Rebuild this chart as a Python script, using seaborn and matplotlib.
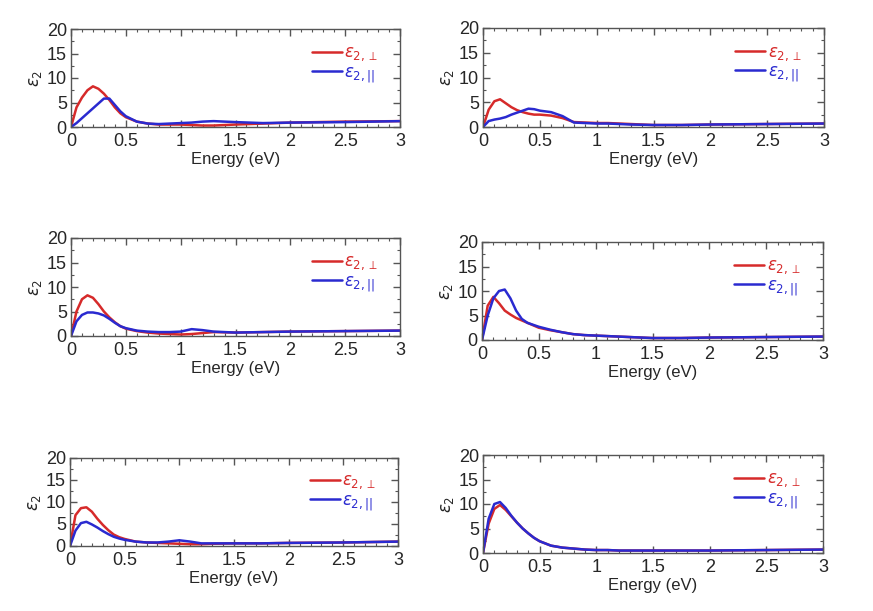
import matplotlib
matplotlib.use("Agg")
import matplotlib.pyplot as plt
from matplotlib.ticker import MultipleLocator, FuncFormatter
import numpy as np
import pandas as pd
import seaborn as sns

# photon energy grid (eV)
energy = [0, 0.05, 0.1, 0.15, 0.2, 0.25, 0.3, 0.35, 0.4, 0.45, 0.5, 0.6,
          0.7, 0.8, 0.9, 1.0, 1.1, 1.2, 1.3, 1.5, 1.75, 2.0, 2.5, 3.0]

# eps_2 perpendicular / parallel for the six panels (row by row)
perp_1 = [0, 4, 6, 7.5, 8.3, 7.8, 6.8, 5.5, 4, 2.8, 2, 1.1, 0.7, 0.5, 0.5, 0.5, 0.4, 0.3, 0.3, 0.5, 0.7, 0.9, 1.1, 1.2]
par_1 = [0, 0.8, 1.8, 2.8, 3.8, 4.8, 5.8, 5.8, 4.5, 3.2, 2.2, 1.1, 0.7, 0.6, 0.7, 0.8, 0.9, 1.1, 1.2, 1.0, 0.8, 0.9, 1.0, 1.2]

perp_2 = [0, 3.5, 5.2, 5.6, 4.8, 4.0, 3.4, 3.0, 2.7, 2.5, 2.5, 2.3, 1.8, 1.0, 0.9, 0.8, 0.8, 0.7, 0.6, 0.4, 0.4, 0.5, 0.6, 0.7]
par_2 = [0, 1.2, 1.5, 1.7, 2.0, 2.5, 2.9, 3.3, 3.7, 3.6, 3.3, 3.0, 2.2, 0.9, 0.8, 0.7, 0.7, 0.6, 0.5, 0.4, 0.4, 0.5, 0.6, 0.7]

perp_3 = [0, 5, 7.5, 8.3, 7.8, 6.5, 5, 3.8, 2.8, 2, 1.5, 1.0, 0.7, 0.5, 0.4, 0.3, 0.4, 0.6, 0.8, 0.7, 0.8, 0.9, 1.0, 1.1]
par_3 = [0, 3, 4.3, 4.8, 4.8, 4.6, 4.2, 3.5, 2.7, 2, 1.6, 1.1, 0.9, 0.8, 0.8, 0.9, 1.4, 1.2, 0.9, 0.7, 0.8, 0.9, 1.0, 1.1]

perp_4 = [0, 7, 8.8, 7.5, 6, 5.2, 4.5, 4.0, 3.5, 3.0, 2.5, 2.0, 1.6, 1.2, 1.0, 0.9, 0.8, 0.7, 0.6, 0.4, 0.4, 0.5, 0.6, 0.7]
par_4 = [0, 5, 8.5, 10.0, 10.3, 8.5, 6, 4.3, 3.5, 3.1, 2.7, 2.1, 1.6, 1.2, 1.0, 0.9, 0.8, 0.7, 0.6, 0.4, 0.4, 0.5, 0.6, 0.7]

perp_5 = [0, 7, 8.6, 8.8, 7.8, 6.2, 4.8, 3.6, 2.6, 2.0, 1.6, 1.0, 0.8, 0.7, 0.6, 0.5, 0.4, 0.4, 0.5, 0.6, 0.6, 0.7, 0.8, 1.0]
par_5 = [0, 3.5, 5.2, 5.5, 4.9, 4.2, 3.4, 2.7, 2.1, 1.7, 1.4, 1.0, 0.8, 0.8, 1.0, 1.3, 1.0, 0.6, 0.6, 0.6, 0.6, 0.7, 0.8, 1.0]

perp_6 = [0, 6, 9.0, 9.8, 8.8, 7.5, 6.2, 5.0, 4.0, 3.1, 2.4, 1.5, 1.1, 0.9, 0.7, 0.6, 0.6, 0.5, 0.5, 0.5, 0.5, 0.5, 0.6, 0.7]
par_6 = [0, 7, 10.0, 10.4, 9.2, 7.6, 6.2, 5.0, 4.0, 3.1, 2.4, 1.5, 1.1, 0.9, 0.7, 0.6, 0.6, 0.5, 0.5, 0.5, 0.5, 0.5, 0.6, 0.7]

panels = [(perp_1, par_1), (perp_2, par_2), (perp_3, par_3),
          (perp_4, par_4), (perp_5, par_5), (perp_6, par_6)]

RED = "#d62a2a"
BLUE = "#2a2ad0"

sns.set_theme(style="ticks")
plt.rcParams["font.family"] = ["Liberation Sans", "DejaVu Sans"]

fig = plt.figure(figsize=(8.73, 6.11), dpi=100)
W, H = 873, 611
# axes boxes in pixels: left, top, right, bottom
boxes = [(71, 29, 400, 127), (483, 28, 824, 127),
         (71, 238, 400, 336), (482, 242, 823, 340),
         (70, 458, 398, 546), (483, 455, 823, 553)]

fmt = FuncFormatter(lambda v, p: f"{v:g}")

for (perp, par), (l, t, r, b) in zip(panels, boxes):
    ax = fig.add_axes([l / W, 1 - b / H, (r - l) / W, (b - t) / H])
    df = pd.DataFrame({"energy": energy, "perp": perp, "par": par})
    sns.lineplot(data=df, x="energy", y="perp", color=RED, lw=1.8, ax=ax,
                 label=r"$\varepsilon_{2,\perp}$")
    sns.lineplot(data=df, x="energy", y="par", color=BLUE, lw=1.8, ax=ax,
                 label=r"$\varepsilon_{2,||}$")
    ax.set_xlim(0, 3)
    ax.set_ylim(0, 20)
    ax.xaxis.set_major_locator(MultipleLocator(0.5))
    ax.xaxis.set_minor_locator(MultipleLocator(0.1))
    ax.yaxis.set_major_locator(MultipleLocator(5))
    ax.yaxis.set_minor_locator(MultipleLocator(2.5))
    ax.xaxis.set_major_formatter(fmt)
    ax.yaxis.set_major_formatter(fmt)
    ax.tick_params(which="both", direction="in", top=True, right=True,
                   labelsize=13, color="#555555")
    ax.tick_params(axis="x", pad=4)
    ax.tick_params(axis="y", pad=3)
    ax.tick_params(which="major", length=5, width=1)
    ax.tick_params(which="minor", length=2.5, width=0.8)
    for s in ax.spines.values():
        s.set_color("#555555")
        s.set_linewidth(1.0)
    ax.set_xlabel("Energy (eV)", fontsize=12, labelpad=2)
    ax.set_ylabel(r"$\varepsilon_2$", fontsize=12, labelpad=2)
    leg = ax.legend(loc="upper right", bbox_to_anchor=(0.955, 0.9), frameon=False,
                    fontsize=12, handlelength=1.8, handletextpad=0.15,
                    borderaxespad=0, labelspacing=0.1)
    for txt, col in zip(leg.get_texts(), [RED, BLUE]):
        txt.set_color(col)

fig.savefig("out.png", dpi=100)
